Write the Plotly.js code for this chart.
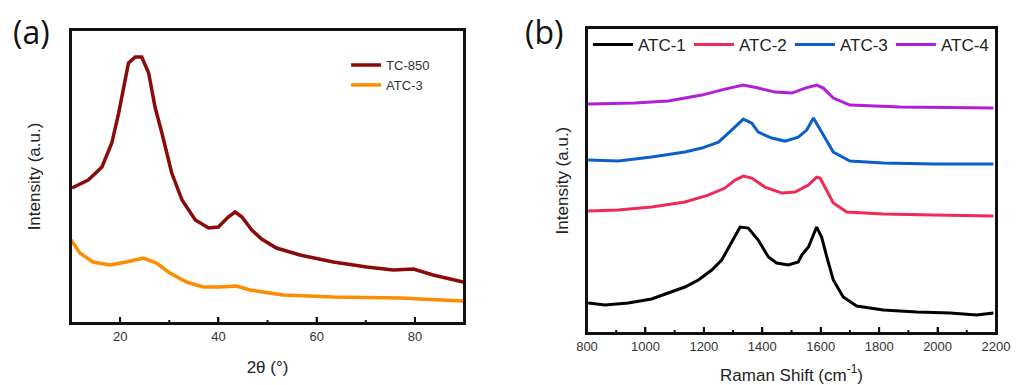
<!DOCTYPE html>
<html><head><meta charset="utf-8">
<script src="https://cdn.plot.ly/plotly-3.0.1.min.js"></script>
<style>
body{margin:0;background:#fff}
#wrap{position:relative;width:1025px;height:385px}
#pa{position:absolute;left:0;top:0;width:512px;height:385px}
#pb{position:absolute;left:512px;top:0;width:513px;height:385px}
</style>
</head><body><div id="wrap"><div id="pa"></div><div id="pb"></div></div>
<script>
// Panel (a): XRD
const xrdX_TC = [10.2,13.5,16.3,18.3,19.7,20.7,21.7,23.1,24.4,25.8,27.1,28.5,30.5,32.6,35.3,38,40,42,43.4,44.8,46.8,48.8,51.8,56.6,63.4,70.2,75.6,79.7,83.7,89.8];
const xrdY_TC = [135,143,156,180,210,233,260,266,266,250,216,190,150,123,103,95,96,106,111,106,93,84,75,68,61,56,53,54,48,41];
const xrdX_ATC3 = [10,11.8,14.5,17.9,21.3,24.7,27.4,30.1,33.5,36.9,40.3,43.7,46.4,53.2,63.4,76.9,89.8];
const xrdY_ATC3 = [83,70,61,58,61,65,60,50,41,36,36,37,33,28,26,25,22];
const xrdMajorTicks = [20, 40, 60, 80];
const xrdMinorTicks = [30, 50, 70];

// Panel (b): Raman
const ramX1 = [804,862,941,1021,1078,1135,1181,1227,1261,1295,1324,1352,1386,1421,1449,1489,1523,1535,1558,1586,1603,1621,1643,1677,1723,1814,1929,2043,2134,2191];
const ramY1 = [30,28,30,34,40,46,53,63,73,91,106,105,93,76,70,68,71,78,86,106,96,76,53,36,27,23,21,20,18,20];
const ramX2 = [804,907,1021,1135,1215,1272,1307,1335,1364,1409,1467,1512,1558,1586,1598,1621,1643,1689,1814,1986,2191];
const ramY2 = [122,123,126,131,138,145,153,157,155,146,140,141,148,156,155,143,130,121,119,118,117];
const ramX3 = [804,907,1021,1135,1193,1250,1295,1335,1364,1386,1432,1478,1523,1552,1575,1609,1643,1700,1814,1986,2191];
const ramY3 = [173,172,176,181,185,191,203,214,210,201,195,192,196,203,215,198,181,172,170,169,169];
const ramX4 = [804,964,1078,1193,1272,1335,1386,1444,1501,1547,1586,1609,1643,1700,1872,2191];
const ramY4 = [229,230,232,238,244,248,245,241,240,245,248,245,235,228,226,225];
const ramMajorTicks = [1000, 1200, 1400, 1600, 1800, 2000];
const ramMinorTicks = [900, 1100, 1300, 1500, 1700, 1900, 2100];

const font = 'Liberation Sans, Arial, sans-serif';
const ink = '#111111';
function ax(extra) {
  return Object.assign({
    showline: true, mirror: true, linecolor: ink, linewidth: 2,
    showgrid: false, zeroline: false,
    ticks: 'inside', ticklen: 6, tickwidth: 2, tickcolor: ink,
    tickfont: {family: font, size: 13, color: '#333333'}
  }, extra);
}
function tf() { return {family: font, size: 17, color: '#222222'}; }
function panelTitle(t, xfrac) {
  return {text: t, x: xfrac, xref: 'container', xanchor: 'left', y: 0.945, yref: 'container', yanchor: 'top',
          pad: {t: 0, b: 0, l: 0, r: 0}, font: {family: 'Open Sans, sans-serif', size: 32, color: ink}};
}
function frameShape() {
  return [{type: 'rect', xref: 'x domain', yref: 'y domain', x0: 0, x1: 1, y0: 0, y1: 1,
           line: {color: ink, width: 2}, fillcolor: 'rgba(0,0,0,0)', layer: 'above'}];
}
// inside tick marks as a line trace built from the tick value arrays (y in axis units, range starts at 0)
function tickTrace(major, minor, majLen, minLen) {
  const x = [], y = [];
  major.forEach(v => { x.push(v, v, null); y.push(0, majLen, null); });
  minor.forEach(v => { x.push(v, v, null); y.push(0, minLen, null); });
  return {x: x, y: y, mode: 'lines', line: {color: ink, width: 2}, showlegend: false, hoverinfo: 'skip', connectgaps: false};
}

const tracesA = [
  {x: xrdX_TC, y: xrdY_TC, name: 'TC-850', mode: 'lines', line: {color: '#8b0a0a', width: 3.5}},
  {x: xrdX_ATC3, y: xrdY_ATC3, name: 'ATC-3', mode: 'lines', line: {color: '#ff8c00', width: 3.5}},
  tickTrace(xrdMajorTicks, xrdMinorTicks, 6, 3)
];
const layoutA = {
  width: 512, height: 385,
  margin: {l: 0, r: 0, t: 0, b: 0},
  title: panelTitle('(a)', 13 / 512),
  xaxis: ax({domain: [0.1387, 0.9063], range: [10, 90], tickvals: xrdMajorTicks,
    title: {text: '2θ (°)', font: tf(), standoff: 18}}),
  yaxis: ax({domain: [0.161, 0.922], range: [0, 293], ticks: '', showticklabels: false,
    title: {text: 'Intensity (a.u.)', font: tf(), standoff: 24}}),
  shapes: frameShape(),
  showlegend: true,
  legend: {x: 0.676, y: 0.870, xanchor: 'left', yanchor: 'top', bgcolor: 'rgba(0,0,0,0)', font: {family: font, size: 13, color: '#333333'}, tracegroupgap: 0}
};

const tracesB = [
  {x: ramX1, y: ramY1, name: 'ATC-1', mode: 'lines', line: {color: '#000000', width: 3}},
  {x: ramX2, y: ramY2, name: 'ATC-2', mode: 'lines', line: {color: '#ee2a55', width: 3}},
  {x: ramX3, y: ramY3, name: 'ATC-3', mode: 'lines', line: {color: '#0a5fc8', width: 3}},
  {x: ramX4, y: ramY4, name: 'ATC-4', mode: 'lines', line: {color: '#b21ed8', width: 3}},
  tickTrace(ramMajorTicks, ramMinorTicks, 6, 3)
];
const layoutB = {
  width: 513, height: 385,
  margin: {l: 0, r: 0, t: 0, b: 0},
  title: panelTitle('(b)', 13 / 513),
  xaxis: ax({domain: [0.1462, 0.9435], range: [800, 2200], tick0: 0, dtick: 200,
    title: {text: 'Raman Shift (cm<sup>-1</sup>)', font: tf(), standoff: 16}}),
  yaxis: ax({domain: [0.135, 0.927], range: [0, 305], ticks: '', showticklabels: false,
    title: {text: 'Intensity (a.u.)', font: tf(), standoff: 12}}),
  shapes: frameShape(),
  showlegend: true,
  legend: {x: 0.148, y: 0.93, xanchor: 'left', yanchor: 'top', orientation: 'h', bgcolor: 'rgba(0,0,0,0)',
           font: {family: font, size: 17, color: '#222222'}, itemwidth: 40, entrywidth: 46, entrywidthmode: 'pixels'}
};

Plotly.newPlot('pa', tracesA, layoutA, {displayModeBar: false});
Plotly.newPlot('pb', tracesB, layoutB, {displayModeBar: false});
</script></body></html>
